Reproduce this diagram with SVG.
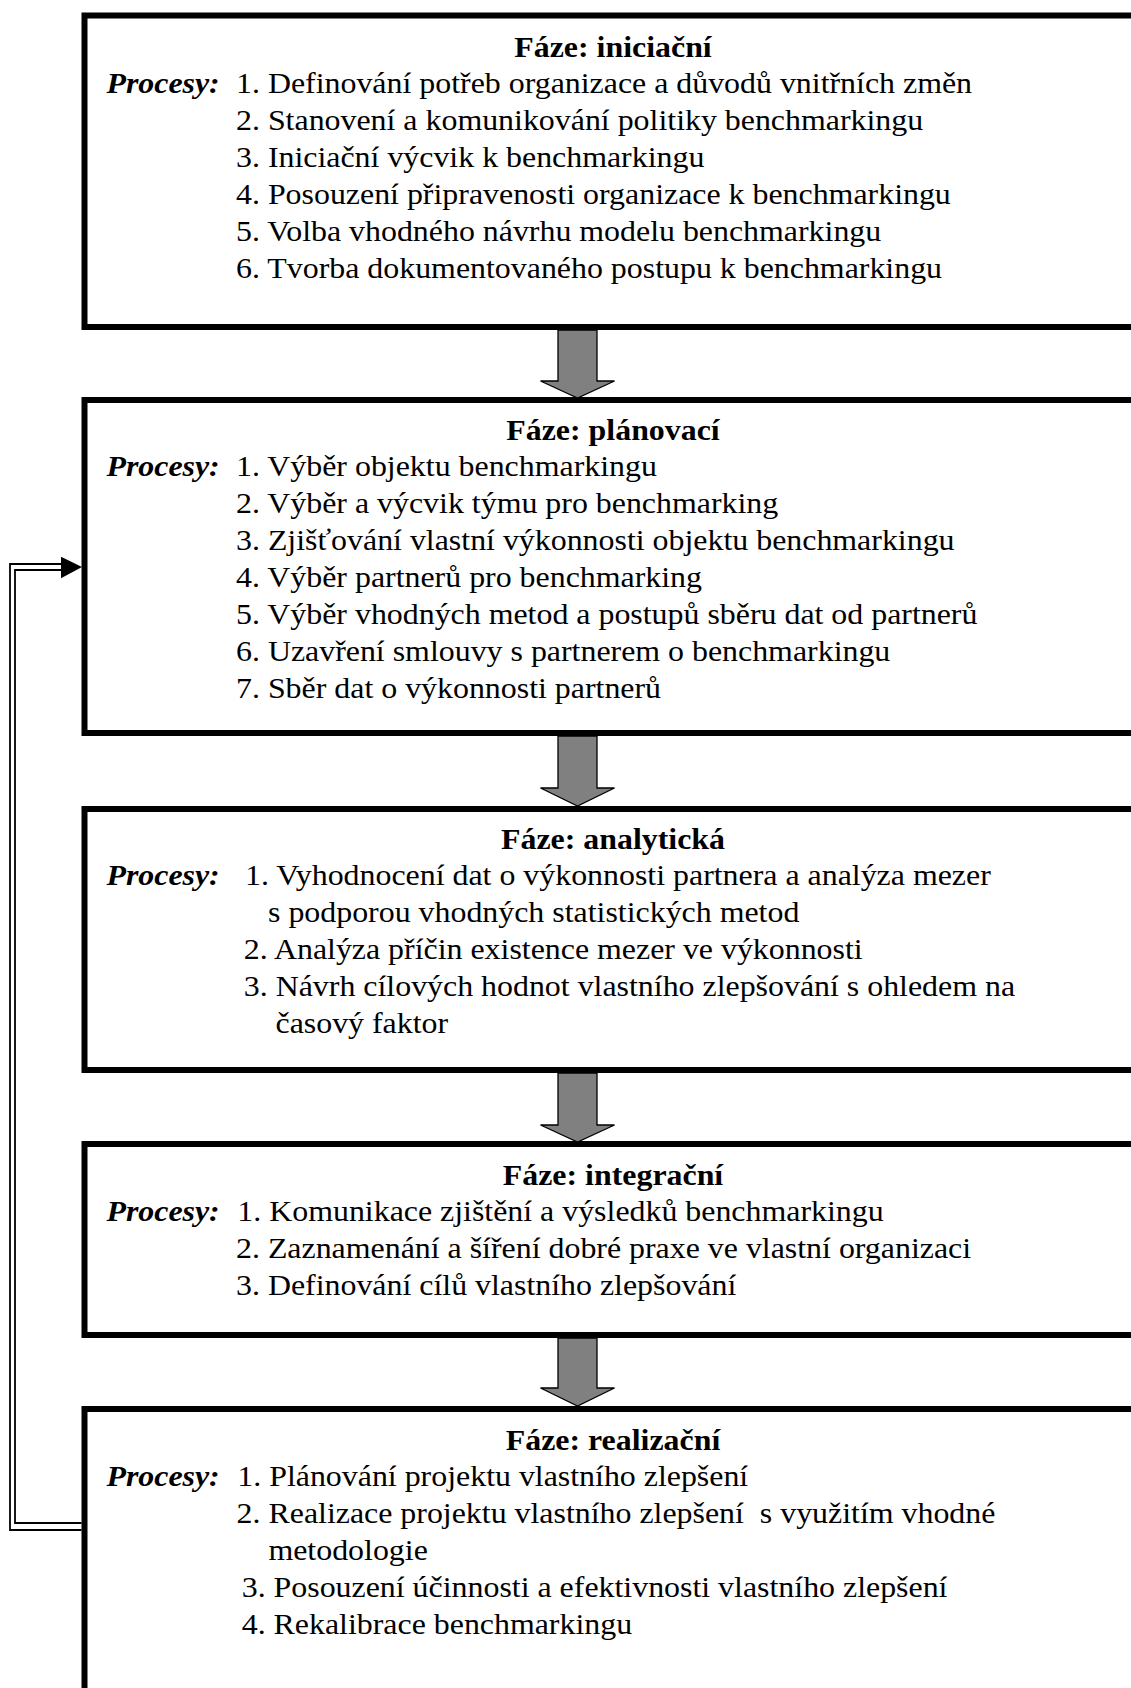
<svg xmlns="http://www.w3.org/2000/svg" width="1131" height="1688" viewBox="0 0 1131 1688">
<style>
.box{fill:#fff;stroke:#000;stroke-width:6}
.t{font-family:"Liberation Serif","Times New Roman",serif;font-size:29px;fill:#000}
.h{font-weight:bold;text-anchor:middle}
.p{font-weight:bold;font-style:italic}
.arr{fill:#808080;stroke:#000;stroke-width:1.3;stroke-linejoin:miter}
.fb{fill:none;stroke:#000;stroke-width:1.8}
</style>
<rect width="1131" height="1688" fill="#fff"/>
<g id="n1">
<rect class="box" x="84.5" y="15.5" width="1060" height="311.5"/>
<text class="t h" transform="translate(613 57) scale(1.1 1)">Fáze: iniciační</text>
<text class="t p" transform="translate(106.4 93) scale(1.1 1)">Procesy:</text>
<text class="t" transform="translate(236 93) scale(1.1 1)">1. Definování potřeb organizace a důvodů vnitřních změn</text>
<text class="t" transform="translate(236 130) scale(1.1 1)">2. Stanovení a komunikování politiky benchmarkingu</text>
<text class="t" transform="translate(236 167) scale(1.1 1)">3. Iniciační výcvik k benchmarkingu</text>
<text class="t" transform="translate(236 204) scale(1.1 1)">4. Posouzení připravenosti organizace k benchmarkingu</text>
<text class="t" transform="translate(236 241) scale(1.1 1)">5. Volba vhodného návrhu modelu benchmarkingu</text>
<text class="t" transform="translate(236 278) scale(1.1 1)">6. Tvorba dokumentovaného postupu k benchmarkingu</text>
</g>
<g id="n2">
<rect class="box" x="84.5" y="400" width="1060" height="333"/>
<text class="t h" transform="translate(613 440) scale(1.1 1)">Fáze: plánovací</text>
<text class="t p" transform="translate(106.4 476) scale(1.1 1)">Procesy:</text>
<text class="t" transform="translate(236 476) scale(1.1 1)">1. Výběr objektu benchmarkingu</text>
<text class="t" transform="translate(236 513) scale(1.1 1)">2. Výběr a výcvik týmu pro benchmarking</text>
<text class="t" transform="translate(236 550) scale(1.1 1)">3. Zjišťování vlastní výkonnosti objektu benchmarkingu</text>
<text class="t" transform="translate(236 587) scale(1.1 1)">4. Výběr partnerů pro benchmarking</text>
<text class="t" transform="translate(236 624) scale(1.1 1)">5. Výběr vhodných metod a postupů sběru dat od partnerů</text>
<text class="t" transform="translate(236 661) scale(1.1 1)">6. Uzavření smlouvy s partnerem o benchmarkingu</text>
<text class="t" transform="translate(236 698) scale(1.1 1)">7. Sběr dat o výkonnosti partnerů</text>
</g>
<g id="n3">
<rect class="box" x="84.5" y="809" width="1060" height="261"/>
<text class="t h" transform="translate(613 849) scale(1.1 1)">Fáze: analytická</text>
<text class="t p" transform="translate(106.4 885) scale(1.1 1)">Procesy:</text>
<text class="t" transform="translate(245 885) scale(1.1 1)">1. Vyhodnocení dat o výkonnosti partnera a analýza mezer</text>
<text class="t" transform="translate(268 922) scale(1.1 1)">s podporou vhodných statistických metod</text>
<text class="t" transform="translate(243.8 959) scale(1.1 1)">2. Analýza příčin existence mezer ve výkonnosti</text>
<text class="t" transform="translate(243.8 996) scale(1.1 1)">3. Návrh cílových hodnot vlastního zlepšování s ohledem na</text>
<text class="t" transform="translate(275.5 1033) scale(1.1 1)">časový faktor</text>
</g>
<g id="n4">
<rect class="box" x="84.5" y="1144" width="1060" height="191"/>
<text class="t h" transform="translate(613 1185) scale(1.1 1)">Fáze: integrační</text>
<text class="t p" transform="translate(106.4 1221) scale(1.1 1)">Procesy:</text>
<text class="t" transform="translate(237.3 1221) scale(1.1 1)">1. Komunikace zjištění a výsledků benchmarkingu</text>
<text class="t" transform="translate(236 1258) scale(1.1 1)">2. Zaznamenání a šíření dobré praxe ve vlastní organizaci</text>
<text class="t" transform="translate(236 1295) scale(1.1 1)">3. Definování cílů vlastního zlepšování</text>
</g>
<g id="n5">
<rect class="box" x="84.5" y="1409" width="1060" height="300"/>
<text class="t h" transform="translate(613 1450) scale(1.1 1)">Fáze: realizační</text>
<text class="t p" transform="translate(106.4 1486) scale(1.1 1)">Procesy:</text>
<text class="t" transform="translate(237.3 1486) scale(1.1 1)">1. Plánování projektu vlastního zlepšení</text>
<text class="t" xml:space="preserve" transform="translate(236.6 1523) scale(1.1 1)">2. Realizace projektu vlastního zlepšení  s využitím vhodné</text>
<text class="t" transform="translate(268.4 1560) scale(1.1 1)">metodologie</text>
<text class="t" transform="translate(241.7 1597) scale(1.1 1)">3. Posouzení účinnosti a efektivnosti vlastního zlepšení</text>
<text class="t" transform="translate(241.7 1634) scale(1.1 1)">4. Rekalibrace benchmarkingu</text>
</g>
<g id="connectors">
<polygon class="arr" points="558,330 597,330 597,381 614.5,381 577.5,398 540.5,381 558,381"/>
<polygon class="arr" points="558,736 597,736 597,788 614.5,788 577.5,806 540.5,788 558,788"/>
<polygon class="arr" points="558,1073 597,1073 597,1125 614.5,1125 577.5,1142 540.5,1125 558,1125"/>
<polygon class="arr" points="558,1338 597,1338 597,1388 614.5,1388 577.5,1406 540.5,1388 558,1388"/>
<path class="fb" d="M81.5 1530 H10 V564 H62"/>
<path class="fb" d="M81.5 1523 H15 V570 H62"/>
<polygon points="61,556.7 82,567 61,578.3" fill="#000"/>
</g>
</svg>
